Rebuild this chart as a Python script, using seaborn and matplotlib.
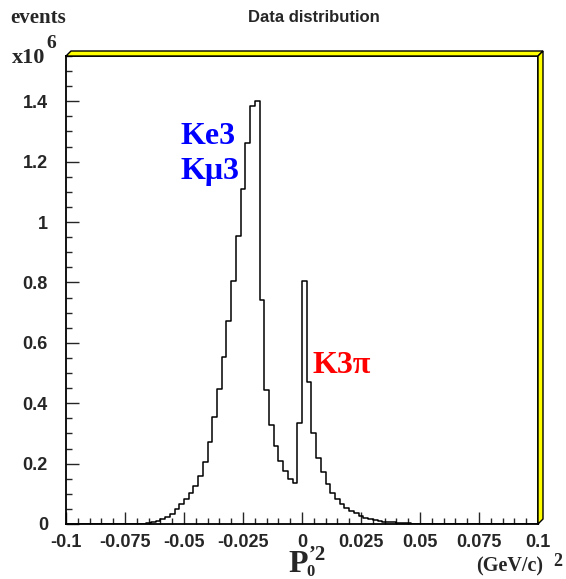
import numpy as np
import pandas as pd
import matplotlib
matplotlib.use("Agg")
import matplotlib.pyplot as plt
import seaborn as sns
from matplotlib.patches import Polygon
from matplotlib.ticker import MultipleLocator

# binning of P0'^2, 100 bins of 0.002 (GeV/c)^2
bin_lo, bin_hi, n_bins = -0.1, 0.1, 100

# events per bin, in units of 10^6 (bins 0..13 and 83..99 empty)
events_left = [0.0] * 14
events_mid = [0.0005, 0.001, 0.0015, 0.003, 0.005, 0.009, 0.017, 0.024, 0.034, 0.049,
              0.065, 0.082, 0.103, 0.127, 0.160, 0.206, 0.272, 0.355, 0.447, 0.552,
              0.672, 0.804, 0.954, 1.111, 1.263, 1.385, 1.401, 0.741, 0.443, 0.328,
              0.258, 0.209, 0.174, 0.149, 0.137, 0.334, 0.805, 0.470, 0.300, 0.218,
              0.171, 0.131, 0.103, 0.083, 0.066, 0.053, 0.043, 0.035, 0.027, 0.021,
              0.017, 0.013, 0.010, 0.008, 0.006, 0.005, 0.004, 0.003, 0.002, 0.0015,
              0.001, 0.001, 0.0007, 0.0005, 0.0003, 0.0003, 0.0002, 0.0002, 0.0001]
events_right = [0.0] * (n_bins - len(events_left) - len(events_mid))
events = events_left + events_mid + events_right

xticks = [-0.1, -0.075, -0.05, -0.025, 0, 0.025, 0.05, 0.075, 0.1]
xtick_labels = ["-0.1", "-0.075", "-0.05", "-0.025", "0", "0.025", "0.05", "0.075", "0.1"]
yticks = [0, 0.2, 0.4, 0.6, 0.8, 1.0, 1.2, 1.4]
ytick_labels = ["0", "0.2", "0.4", "0.6", "0.8", "1", "1.2", "1.4"]

edges = np.linspace(bin_lo, bin_hi, n_bins + 1)
df = pd.DataFrame({"p2": 0.5 * (edges[:-1] + edges[1:]), "events": events})

sns.set_style("ticks")
plt.rcParams['font.family'] = ['Liberation Sans', 'DejaVu Sans']

W, H = 566, 579
fig = plt.figure(figsize=(W / 100, H / 100), dpi=100)
ax = fig.add_axes([66 / W, 55 / H, 472 / W, 468 / H])

sns.histplot(data=df, x="p2", weights="events", bins=list(edges), element="step",
             fill=False, color="black", linewidth=1.1, ax=ax)

ax.set_xlim(bin_lo, bin_hi)
ax.set_ylim(0, 1.55)
ax.set_xlabel("")
ax.set_ylabel("")

ax.set_xticks(xticks)
ax.set_xticklabels(xtick_labels, fontsize=13, fontweight="bold")
ax.set_yticks(yticks)
ax.set_yticklabels(ytick_labels, fontsize=13, fontweight="bold")
ax.xaxis.set_minor_locator(MultipleLocator(0.005))
ax.yaxis.set_minor_locator(MultipleLocator(0.05))
ax.tick_params(which="major", direction="in", length=9, width=1, top=False, right=False)
ax.tick_params(which="minor", direction="in", length=4.5, width=1, top=False, right=False)
ax.tick_params(axis="y", which="major", pad=13)
ax.tick_params(axis="x", which="major", pad=7)
for s in ax.spines.values():
    s.set_linewidth(1.3)
    s.set_color("black")

# yellow raised frame border (top and right)
dx, dy = 5 / 472, 5 / 468
top = Polygon([(0, 1), (1, 1), (1 + dx, 1 + dy), (dx, 1 + dy)], closed=True,
              facecolor="yellow", edgecolor="black", linewidth=1, transform=ax.transAxes,
              clip_on=False, zorder=5)
right = Polygon([(1, 0), (1 + dx, dy), (1 + dx, 1 + dy), (1, 1)], closed=True,
                facecolor="yellow", edgecolor="black", linewidth=1, transform=ax.transAxes,
                clip_on=False, zorder=5)
ax.add_patch(top)
ax.add_patch(right)

serif = ['Liberation Serif', 'DejaVu Serif']

# title and axis annotations
fig.text(314 / W, 1 - 17 / H, "Data distribution", ha="center", va="center",
         fontsize=12, fontweight="bold")
fig.text(10 / W, 1 - 23 / H, "events", ha="left", va="baseline", family=serif,
         fontsize=15, fontweight="bold")
fig.text(12 / W, 1 - 63 / H, "x10", ha="left", va="baseline", family=serif,
         fontsize=16, fontweight="bold")
fig.text(46 / W, 1 - 48 / H, "6", ha="left", va="baseline", family=serif,
         fontsize=14, fontweight="bold")

fig.text(288 / W, 1 - 572 / H, "P", ha="left", va="baseline", family=serif,
         fontsize=23, fontweight="bold")
fig.text(309 / W, 1 - 560 / H, "\u20192", ha="left", va="baseline", family=serif,
         fontsize=15, fontweight="bold")
fig.text(306 / W, 1 - 575.5 / H, "0", ha="left", va="baseline", family=serif,
         fontsize=12, fontweight="bold")
fig.text(476 / W, 1 - 571 / H, "(GeV/c)", ha="left", va="baseline", family=serif,
         fontsize=14.5, fontweight="bold")
fig.text(553 / W, 1 - 566 / H, "2", ha="left", va="baseline", family=serif,
         fontsize=13, fontweight="bold")

# peak labels
ax.text(-0.0515, 1.284, "Ke3", color="blue", family=serif, fontsize=23,
        fontweight="bold", ha="left", va="center")
ax.text(-0.0515, 1.168, "K\u03bc3", color="blue", family=serif, fontsize=23,
        fontweight="bold", ha="left", va="center")
ax.text(0.0045, 0.526, "K3\u03c0", color="red", family=serif, fontsize=23,
        fontweight="bold", ha="left", va="center")

fig.savefig("out.png", dpi=100, facecolor="white")
